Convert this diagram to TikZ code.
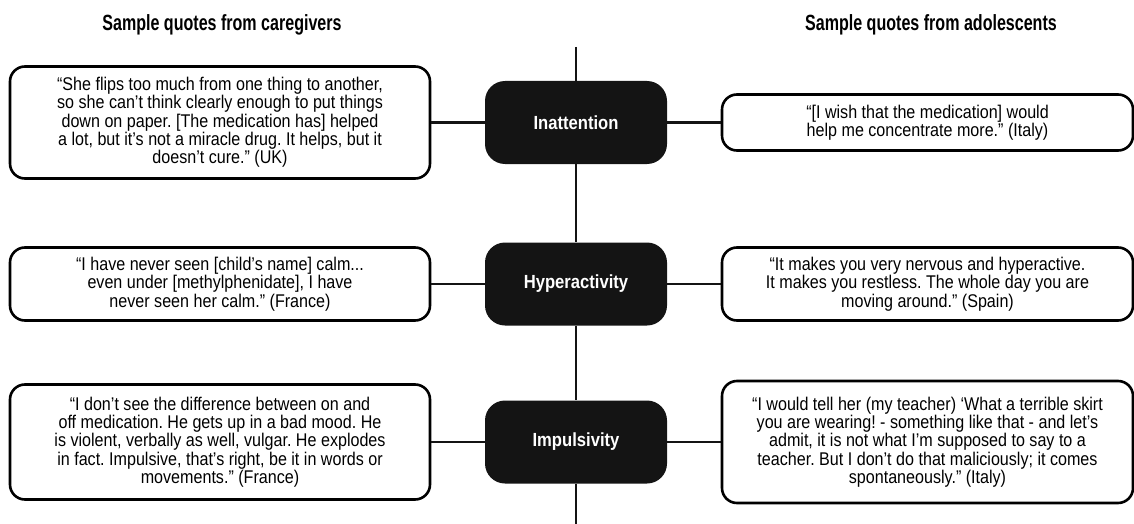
\documentclass[tikz,border=0pt]{standalone}
\usepackage{fontspec}
\setmainfont{Liberation Sans}[FakeStretch=0.875]
\newfontfamily\headfont{Liberation Sans}[FakeStretch=0.73]
\frenchspacing
\begin{document}
\begin{tikzpicture}[x=1pt,y=-1pt,
  quote/.style={draw=black,line width=2.6pt,rounded corners=15pt,fill=white,
    minimum width=420pt,align=center,inner sep=0pt,
    font=\fontsize{18.4}{18.3}\selectfont},
  theme/.style={fill=black!92,draw=none,rounded corners=20pt,minimum width=182pt,
    minimum height=83pt,text=white,font=\fontsize{19}{21}\selectfont\bfseries},
  header/.style={anchor=base,font=\headfont\fontsize{22}{24}\selectfont\bfseries},
  link/.style={line width=2.4pt,draw=black!92}]
\useasboundingbox (0,0) rectangle (1134,524);
% headers
\node[header] (hl) at (222,31) {Sample quotes from caregivers};
\node[header] (hr) at (931,31) {Sample quotes from adolescents};
% theme nodes
\node[theme] (ina) at (576,122.5) {Inattention};
\node[theme] (hyp) at (576,284) {Hyperactivity};
\node[theme] (imp) at (576,442) {Impulsivity};
\coordinate (top) at (576,47);
\coordinate (bot) at (576,524);
% quotes left
\node[quote,minimum height=112pt] (l1) at (220,122.5) {“She flips too much from one thing to another,\\so she can’t think clearly enough to put things\\down on paper. [The medication has] helped\\a lot, but it’s not a miracle drug. It helps, but it\\doesn’t cure.” (UK)};
\node[quote,minimum height=73pt] (l2) at (220,284) {“I have never seen [child’s name] calm...\\even under [methylphenidate], I have\\never seen her calm.” (France)};
\node[quote,minimum height=115pt] (l3) at (220,442) {“I don’t see the difference between on and\\off medication. He gets up in a bad mood. He\\is violent, verbally as well, vulgar. He explodes\\in fact. Impulsive, that’s right, be it in words or\\movements.” (France)};
% quotes right
\node[quote,minimum width=411pt,minimum height=56pt] (r1) at (927.5,122.5) {“[I wish that the medication] would\\help me concentrate more.” (Italy)};
\node[quote,minimum width=411pt,minimum height=73pt] (r2) at (927.5,284) {“It makes you very nervous and hyperactive.\\It makes you restless. The whole day you are\\moving around.” (Spain)};
\node[quote,minimum width=411pt,minimum height=122pt] (r3) at (927.5,442) {“I would tell her (my teacher) ‘What a terrible skirt\\you are wearing! - something like that - and let’s\\admit, it is not what I’m supposed to say to a\\teacher. But I don’t do that maliciously; it comes\\spontaneously.” (Italy)};
% connectors
\draw[link] (top) -- (ina.north);
\draw[link] (ina.south) -- (hyp.north);
\draw[link] (hyp.south) -- (imp.north);
\draw[link] (imp.south) -- (bot);
\draw[link] (l1.east) -- (ina.west);
\draw[link] (ina.east) -- (r1.west);
\draw[link] (l2.east) -- (hyp.west);
\draw[link] (hyp.east) -- (r2.west);
\draw[link] (l3.east) -- (imp.west);
\draw[link] (imp.east) -- (r3.west);
\end{tikzpicture}
\end{document}
